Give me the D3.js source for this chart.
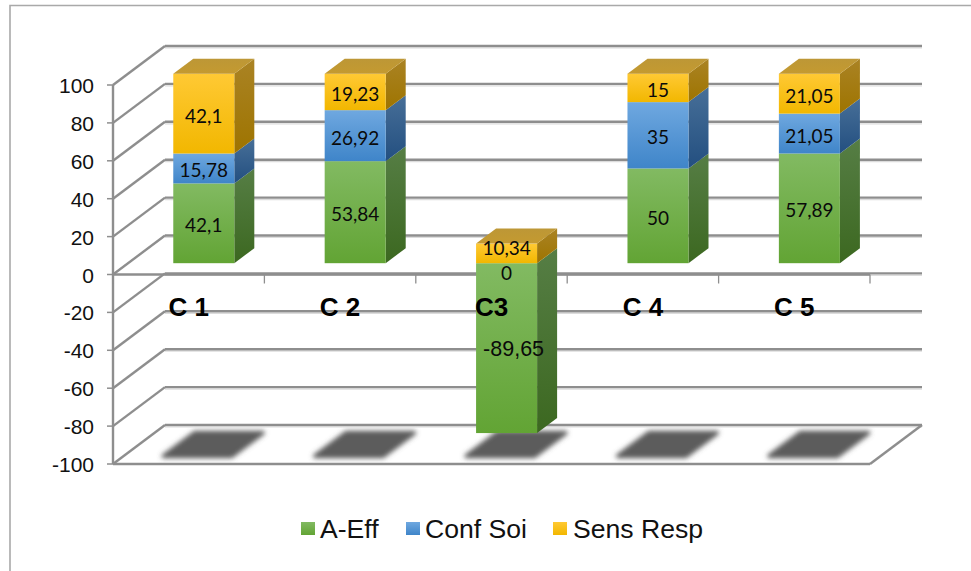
<!DOCTYPE html>
<html><head><meta charset="utf-8">
<script src="https://cdn.jsdelivr.net/npm/d3@7"></script>
<style>html,body{margin:0;padding:0;background:#fff}svg{display:block}</style>
</head><body><svg id="c" width="971" height="571"></svg>
<script>
const categories = ["C 1", "C 2", "C3", "C 4", "C 5"];
const seriesNames = ["A-Eff", "Conf Soi", "Sens Resp"];
const aEff = [42.1, 53.84, -89.65, 50, 57.89];
const confSoi = [15.78, 26.92, 0, 35, 21.05];
const sensResp = [42.1, 19.23, 10.34, 15, 21.05];
const yTicks = [100, 80, 60, 40, 20, 0, -20, -40, -60, -80, -100];
const valuesBySeries = [aEff, confSoi, sensResp];

const svg = d3.select("#c");
const GRID = "#8e8e8e";
const x = d3.scaleBand().domain(categories).range([113, 870]).paddingInner(0.597).paddingOuter(0.2985);
const xOuter = d3.scaleBand().domain(categories).range([113, 870]);
const y = d3.scaleLinear().domain([-100, 100]).range([464, 85]);
const z = d3.scaleLinear().domain([0, 1]).range([0, 52]);
const zy = d3.scaleLinear().domain([0, 1]).range([0, -39]);
const px = (vx, d) => vx + z(d);
const py = (v, d) => y(v) + zy(d);
const BAR_Z0 = 0.29, BAR_Z1 = 0.675;

const table = categories.map((c, i) => ({cat: c, 0: aEff[i], 1: confSoi[i], 2: sensResp[i]}));
const stacked = d3.stack().keys([0, 1, 2]).offset(d3.stackOffsetDiverging)(table);

// gradients
const defs = svg.append("defs");
function grad(id, a, b) {
  const g = defs.append("linearGradient").attr("id", id).attr("x1", 0).attr("y1", 0).attr("x2", 0).attr("y2", 1);
  g.append("stop").attr("offset", 0).attr("stop-color", a);
  g.append("stop").attr("offset", 1).attr("stop-color", b);
}
grad("f0", "#82ba62", "#62a434");
grad("f1", "#6fa8e0", "#3f85c9");
grad("f2", "#ffc934", "#f2b700");
grad("s0", "#567e45", "#3c6820");
grad("s1", "#476f98", "#234f80");
grad("s2", "#aa8324", "#9e7400");
grad("t2", "#bd9736", "#c49a30");
defs.append("filter").attr("id", "blur").attr("x", "-20%").attr("y", "-40%").attr("width", "140%").attr("height", "180%")
  .append("feGaussianBlur").attr("stdDeviation", 2.4);

// frame
svg.append("path").attr("d", "M10,571V5.5H971").attr("fill", "none").attr("stroke", "#a9a9a9").attr("stroke-width", 1.6);

// floor shadows
const floor = -100;
svg.append("g").selectAll("path").data(categories).join("path")
  .attr("filter", "url(#blur)").attr("fill", "#5c5c5c").attr("stroke", "#5c5c5c").attr("stroke-width", 4).attr("stroke-linejoin", "round")
  .attr("d", c => {
    const l = x(c) - 5, r = x(c) + x.bandwidth() + 2;
    return d3.line()([[px(l, .2), py(floor, .2)], [px(r, .2), py(floor, .2)], [px(r, .8), py(floor, .8)], [px(l, .8), py(floor, .8)]]) + "Z";
  });

// walls
const gl = svg.append("g").attr("fill", "none");
function wallLine(sel, dx) {
  sel.selectAll("path.h" + dx).data(yTicks).join("path").attr("class", "h" + dx)
    .attr("d", v => d3.line()([[px(113, 1), py(v, 1) + dx], [px(870, 1), py(v, 1) + dx]]));
}
wallLine(gl.append("g").attr("stroke", "#dcdcdc").attr("stroke-width", 1.2), 2);
wallLine(gl.append("g").attr("stroke", GRID).attr("stroke-width", 2.4), 0);
gl.append("g").attr("stroke", GRID).attr("stroke-width", 2.4).selectAll("path").data(yTicks).join("path")
  .attr("d", v => d3.line()([[113, y(v)], [px(113, 1), py(v, 1)]]));
// floor right edge, front bottom, vertical axis, zero axis
const ax = gl.append("g").attr("stroke", GRID).attr("stroke-width", 2.4);
ax.append("path").attr("d", d3.line()([[870, y(floor)], [px(870, 1), py(floor, 1)]]));
ax.append("path").attr("d", d3.line()([[113, y(floor)], [870, y(floor)]]));
ax.append("path").attr("d", d3.line()([[113, y(100)], [113, y(-100)]]));
ax.append("path").attr("d", d3.line()([[113, y(0)], [870, y(0)]]));
ax.selectAll("path.t").data(yTicks).join("path").attr("class", "t").attr("stroke-width", 1.5)
  .attr("d", v => d3.line()([[107, y(v)], [113, y(v)]]));
ax.selectAll("path.c").data(d3.range(categories.length + 1)).join("path").attr("class", "c").attr("stroke-width", 1.3)
  .attr("d", i => {
    const b = 113 + i * xOuter.step();
    return d3.line()([[b, y(0)], [b, y(0) + 9]]);
  });

// y labels
svg.append("g").selectAll("text").data(yTicks).join("text")
  .attr("x", 94).attr("y", v => y(v) + 8).attr("text-anchor", "end")
  .attr("font-family", "Liberation Sans").attr("font-size", 21).attr("fill", "#111").text(v => v);

// bars
const bars = svg.append("g");
stacked.forEach((s, si) => {
  s.forEach((d, i) => {
    const c = categories[i];
    const top = Math.max(d[0], d[1]), bot = Math.min(d[0], d[1]);
    if (top === bot) return;
    const l = px(x(c), BAR_Z0), r = l + x.bandwidth();
    const yt = py(top, BAR_Z0), yb = py(bot, BAR_Z0);
    const dx = z(BAR_Z1 - BAR_Z0), dy = zy(BAR_Z1 - BAR_Z0);
    bars.append("path").attr("fill", `url(#s${si})`)
      .attr("d", d3.line()([[r, yt], [r + dx, yt + dy], [r + dx, yb + dy], [r, yb]]) + "Z");
    bars.append("rect").attr("x", l).attr("y", yt).attr("width", x.bandwidth()).attr("height", yb - yt).attr("fill", `url(#f${si})`);
  });
});
// top caps
categories.forEach((c, i) => {
  const top = d3.max(stacked, s => Math.max(s[i][0], s[i][1]));
  const l = px(x(c), BAR_Z0), r = l + x.bandwidth();
  const yt = py(top, BAR_Z0);
  const dx = z(BAR_Z1 - BAR_Z0), dy = zy(BAR_Z1 - BAR_Z0);
  bars.append("path").attr("fill", "url(#t2)")
    .attr("d", d3.line()([[l, yt], [r, yt], [r + dx, yt + dy], [l + dx, yt + dy]]) + "Z");
});

// category labels
svg.append("g").selectAll("text").data(categories).join("text")
  .attr("x", c => x(c) + x.bandwidth() / 2).attr("y", 316).attr("text-anchor", "middle")
  .attr("font-family", "Liberation Sans").attr("font-weight", "bold").attr("font-size", 26).attr("fill", "#000").text(c => c);

// value labels
const fmt = v => String(v).replace(".", ",");
const labels = svg.append("g");
stacked.forEach((s, si) => s.forEach((d, i) => {
  const c = categories[i], v = valuesBySeries[si][i];
  const cx = px(x(c), BAR_Z0) + x.bandwidth() / 2;
  const cy = py((d[0] + d[1]) / 2, BAR_Z0);
  const neg = v < 0, zero = v === 0;
  const small = !neg && !zero && Math.abs(v) < 11;
  labels.append("text").attr("x", cx + (neg ? 7 : 0))
    .attr("y", cy + (zero ? 16.5 : neg ? 8 : small ? 1.5 : 9)).attr("text-anchor", "middle")
    .attr("font-family", neg ? "Liberation Sans" : "Lato").attr("font-size", neg ? 21.5 : 19).attr("fill", "#0a0a0a").text(fmt(v));
}));

// legend
const legendSwatchX = [301, 406, 553], legendTextX = [320, 425, 573];
const lg = svg.append("g");
seriesNames.forEach((n, i) => {
  lg.append("rect").attr("x", legendSwatchX[i]).attr("y", 522).attr("width", 14).attr("height", 13).attr("fill", `url(#f${i})`);
  lg.append("text").attr("x", legendTextX[i]).attr("y", 538).attr("font-family", "Liberation Sans").attr("font-size", 26.6).attr("fill", "#111").text(n);
});
</script></body></html>
